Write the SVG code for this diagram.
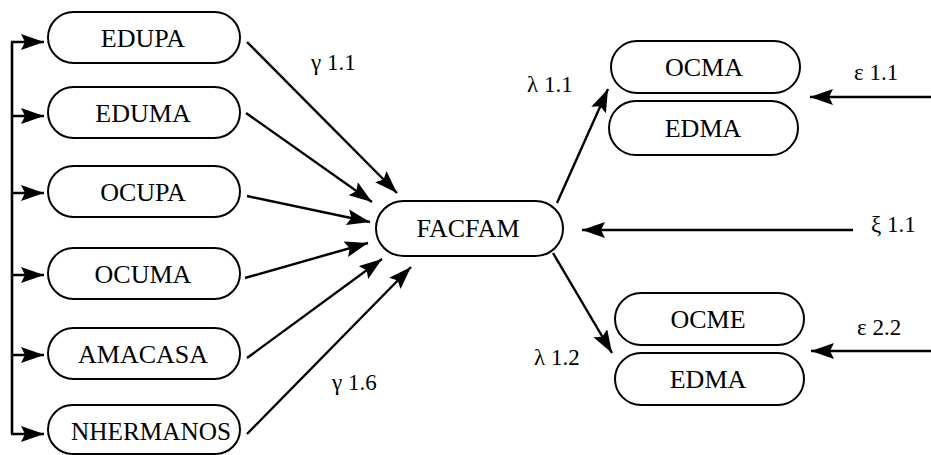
<svg xmlns="http://www.w3.org/2000/svg" width="931" height="455" viewBox="0 0 931 455">
<style>
  .box { fill: #fff; stroke: #000; stroke-width: 2; }
  .nt { font-size: 26px; text-anchor: middle; fill: #000; }
  .lbl { font-size: 23px; fill: #000; }
  .c { stroke: #000; stroke-width: 2.4; fill: none; marker-end: url(#ah); }
  .br { stroke: #000; stroke-width: 2.6; fill: none; }
</style>
<defs>
  <marker id="ah" markerUnits="userSpaceOnUse" markerWidth="26" markerHeight="18" refX="23" refY="8" orient="auto">
    <path d="M0,0 L23,8 L0,16 L4,8 z" fill="#000"/>
  </marker>
</defs>
<rect width="931" height="455" fill="#fff"/>

<g id="connectors">
  <line class="br" x1="12" y1="42" x2="12" y2="434"/>
  <line class="c" x1="11" y1="42" x2="44" y2="42"/>
  <line class="c" x1="11" y1="116" x2="44" y2="116"/>
  <line class="c" x1="11" y1="193" x2="44" y2="193"/>
  <line class="c" x1="11" y1="275" x2="44" y2="275"/>
  <line class="c" x1="11" y1="355" x2="44" y2="355"/>
  <line class="c" x1="11" y1="434" x2="44" y2="434"/>

  <line class="c" x1="247" y1="42" x2="397" y2="193"/>
  <line class="c" x1="246" y1="113" x2="372" y2="202"/>
  <line class="c" x1="247" y1="196" x2="370" y2="222"/>
  <line class="c" x1="245" y1="278" x2="368" y2="243"/>
  <line class="c" x1="247" y1="358" x2="382" y2="259"/>
  <line class="c" x1="247" y1="434" x2="411" y2="267"/>

  <line class="c" x1="557" y1="203" x2="608" y2="89"/>
  <line class="c" x1="553" y1="253" x2="612" y2="353"/>

  <line class="c" x1="853" y1="230" x2="582" y2="230"/>
  <line class="c" x1="931" y1="97" x2="810" y2="97"/>
  <line class="c" x1="931" y1="351" x2="811" y2="351"/>
</g>

<g id="labels" font-family="Liberation Serif, Times New Roman, serif">
  <text class="lbl" x="311" y="70">γ 1.1</text>
  <text class="lbl" x="332" y="390">γ 1.6</text>
  <text class="lbl" x="527" y="92">λ 1.1</text>
  <text class="lbl" x="534" y="365">λ 1.2</text>
  <text class="lbl" x="854" y="80">ε 1.1</text>
  <text class="lbl" x="871" y="232">ξ 1.1</text>
  <text class="lbl" x="857" y="335">ε 2.2</text>
</g>

<g id="nodes" font-family="Liberation Serif, Times New Roman, serif">
<g id="EDUPA"><rect class="box" x="48" y="12" width="192" height="51" rx="25.5"/><text class="nt" x="143" y="47">EDUPA</text></g>
<g id="EDUMA"><rect class="box" x="48" y="87" width="192" height="51" rx="25.5"/><text class="nt" x="143" y="122">EDUMA</text></g>
<g id="OCUPA"><rect class="box" x="48" y="166" width="192" height="51" rx="25.5"/><text class="nt" x="143" y="201">OCUPA</text></g>
<g id="OCUMA"><rect class="box" x="48" y="248" width="192" height="51" rx="25.5"/><text class="nt" x="143" y="283">OCUMA</text></g>
<g id="AMACASA"><rect class="box" x="48" y="328" width="192" height="51" rx="25.5"/><text class="nt" x="143" y="363">AMACASA</text></g>
<g id="NHERMANOS"><rect class="box" x="48" y="405" width="192" height="49" rx="24.5"/><text class="nt" x="151" y="440" textLength="160" lengthAdjust="spacingAndGlyphs">NHERMANOS</text></g>

<g id="FACFAM"><rect class="box" x="376" y="201" width="187" height="55" rx="27.5"/><text class="nt" x="468" y="237">FACFAM</text></g>

<g id="OCMA"><rect class="box" x="611" y="41" width="189" height="52" rx="26"/><text class="nt" x="704" y="76">OCMA</text></g>
<g id="EDMA1"><rect class="box" x="609" y="101" width="189" height="54" rx="27"/><text class="nt" x="703" y="137">EDMA</text></g>
<g id="OCME"><rect class="box" x="615" y="293" width="189" height="52" rx="26"/><text class="nt" x="708" y="328">OCME</text></g>
<g id="EDMA2"><rect class="box" x="615" y="353" width="189" height="52" rx="26"/><text class="nt" x="708" y="388">EDMA</text></g>
</g>
</svg>
